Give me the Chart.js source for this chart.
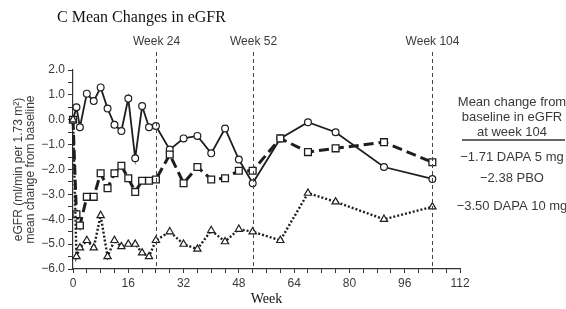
<!DOCTYPE html>
<html>
<head>
<meta charset="utf-8">
<script src="https://cdn.jsdelivr.net/npm/chart.js@4.4.0/dist/chart.umd.min.js"></script>
<style>
html,body{margin:0;padding:0;background:#fff;}
#wrap{width:566px;height:309px;position:relative;}
</style>
</head>
<body>
<div id="wrap"><canvas id="c" width="566" height="309"></canvas></div>
<script>
const weeks = [0,1,2,4,6,8,10,12,14,16,18,20,22,24,28,32,36,40,44,48,52,60,68,76,90,104];
const pbo = [0.0,0.5,-0.3,1.05,0.75,1.3,0.45,-0.2,-0.45,0.85,-1.55,0.55,-0.3,-0.25,-1.2,-0.75,-0.65,-1.35,-0.35,-1.6,-2.55,-0.75,-0.1,-0.5,-1.9,-2.38];
const dapa5 = [0.0,-3.8,-4.25,-3.1,-3.1,-2.15,-2.75,-2.15,-1.85,-2.35,-2.9,-2.45,-2.45,-2.4,-1.4,-2.55,-1.9,-2.4,-2.35,-2.05,-2.05,-0.75,-1.3,-1.15,-0.9,-1.71];
const dapa10 = [0.0,-5.5,-5.15,-4.85,-5.15,-3.85,-5.5,-4.85,-5.1,-5.0,-5.0,-5.35,-5.5,-4.85,-4.5,-5.0,-5.2,-4.45,-4.9,-4.4,-4.5,-4.85,-2.95,-3.3,-4.0,-3.5];
const milestoneWeeks = [24,52,104];
const legendHeader = ["Mean change from","baseline in eGFR","at week 104"];
const legendRows = ["\u22121.71 DAPA 5 mg","\u22122.38 PBO","\u22123.50 DAPA 10 mg"];
const chartTitle = "C Mean Changes in eGFR";

const INK = '#1e1e1e';
const TXT = '#3a3a3a';
const toPts = arr => weeks.map((w,i)=>({x:w,y:arr[i]}));

const overlay = {
  id:'overlay',
  afterDatasetsDraw(chart){
    const ctx = chart.ctx, xs = chart.scales.x, ca = chart.chartArea;
    ctx.save();
    ctx.strokeStyle = '#444'; ctx.lineWidth = 1; ctx.setLineDash([4,3]);
    ctx.font = '12px "Liberation Sans", Arial, sans-serif';
    ctx.fillStyle = TXT; ctx.textAlign = 'center'; ctx.textBaseline = 'middle';
    milestoneWeeks.forEach(w=>{
      const x = Math.round(xs.getPixelForValue(w))+0.5;
      ctx.beginPath(); ctx.moveTo(x, ca.top-18); ctx.lineTo(x, ca.bottom); ctx.stroke();
      ctx.fillText('Week ' + w, x, 42);
    });
    ctx.setLineDash([]);
    ctx.font = '16px "Liberation Serif", "Times New Roman", serif';
    ctx.fillStyle = '#111'; ctx.textAlign = 'left';
    ctx.fillText(chartTitle, 57, 18);
    ctx.font = '13px "Liberation Sans", Arial, sans-serif';
    ctx.fillStyle = TXT; ctx.textAlign = 'center';
    const cx = 512;
    [102,117,132].forEach((y,i)=>ctx.fillText(legendHeader[i], cx, y));
    ctx.strokeStyle = '#333'; ctx.lineWidth = 1.5;
    ctx.beginPath(); ctx.moveTo(462,140); ctx.lineTo(565,140); ctx.stroke();
    [157,178,206].forEach((y,i)=>ctx.fillText(legendRows[i], cx, y));
    ctx.restore();
  }
};

const common = {borderColor:INK, pointBorderColor:INK, pointBackgroundColor:'#fff', fill:false, tension:0, clip:false};

new Chart(document.getElementById('c'), {
  type:'line',
  data:{
    datasets:[
      Object.assign({label:'DAPA 10 mg', data:toPts(dapa10), borderWidth:2.4, borderDash:[2,2], pointStyle:'triangle', pointRadius:4.2, pointBorderWidth:1.2}, common),
      Object.assign({label:'DAPA 5 mg', data:toPts(dapa5), borderWidth:3, borderDash:[10,5], pointStyle:'rect', pointRadius:4.8, pointBorderWidth:1.3}, common),
      Object.assign({label:'PBO', data:toPts(pbo), borderWidth:1.8, pointStyle:'circle', pointRadius:3.4, pointBorderWidth:1.2}, common)
    ]
  },
  options:{
    responsive:false, animation:false, devicePixelRatio:1,
    layout:{padding:{left:12,top:70,right:106,bottom:0}},
    plugins:{legend:{display:false}, tooltip:{enabled:false}},
    scales:{
      x:{type:'linear', min:0, max:112,
        afterFit(s){ s.height = 40; },
        ticks:{stepSize:4, autoSkip:false, maxRotation:0, padding:3, color:TXT,
          font:{family:'"Liberation Sans", Arial, sans-serif', size:12},
          callback:v => (v % 16 === 0 ? String(v) : '')},
        grid:{display:true, drawOnChartArea:false, drawTicks:true, tickLength:4, color:'#333', lineWidth:1},
        border:{display:true, color:'#333', width:1.2},
        title:{display:true, text:'Week', color:'#111', padding:{top:0,bottom:1},
          font:{family:'"Liberation Serif", "Times New Roman", serif', size:14}}
      },
      y:{type:'linear', min:-6, max:2,
        afterFit(s){ s.width = 61; },
        ticks:{stepSize:0.5, autoSkip:false, padding:3, color:TXT,
          font:{family:'"Liberation Sans", Arial, sans-serif', size:12},
          callback:v => (Number.isInteger(v) ? (v<0?'\u2212':'') + Math.abs(v).toFixed(1) : '')},
        grid:{display:true, drawOnChartArea:false, drawTicks:true, tickLength:5, color:'#333', lineWidth:1},
        border:{display:true, color:'#333', width:1.2},
        title:{display:true, text:['eGFR (ml/min per 1.73 m\u00B2)','mean change from baseline'], color:TXT, padding:{top:0,bottom:2},
          font:{family:'"Liberation Sans", Arial, sans-serif', size:12, lineHeight:1.05}}
      }
    }
  },
  plugins:[overlay]
});
</script>
</body>
</html>
